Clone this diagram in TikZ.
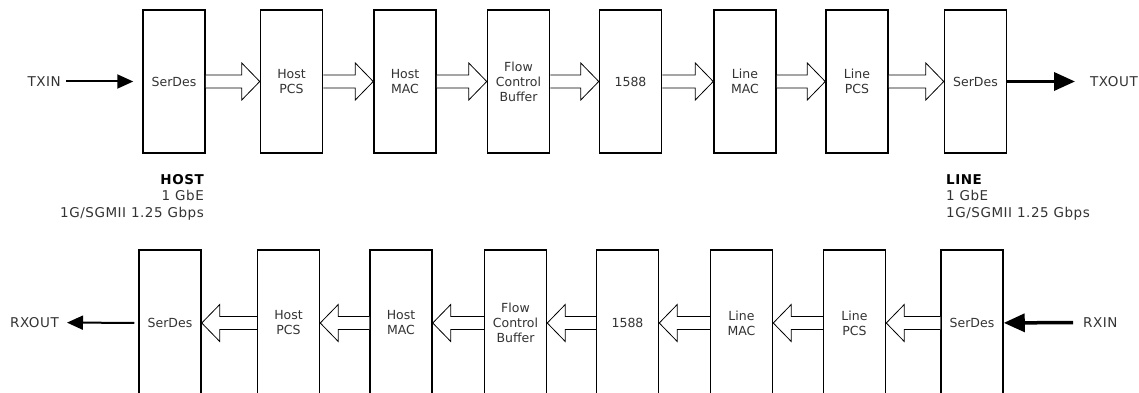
\documentclass[tikz,border=0pt]{standalone}
\usepackage{fontspec}
\setmainfont{DejaVu Sans}
\newfontfamily\lblfont[LetterSpace=4]{DejaVu Sans}
\usetikzlibrary{arrows.meta,calc}
\definecolor{txt}{HTML}{333333}
\tikzset{
  stage/.style={draw=black, line width=1.5pt, fill=white, minimum width=62pt,
    minimum height=143pt, align=center, inner sep=0pt, text=txt,
    font=\fontsize{12.5}{15}\selectfont},
  stagelow/.style={stage, minimum height=146pt},
  blk/.style={draw=black, line width=0.8pt, fill=white, line join=miter},
  lbl/.style={inner sep=0pt, text=txt, font=\lblfont\fontsize{13.5}{16.5}\selectfont},
  thinarr/.style={line width=2pt, -{Triangle[length=16pt,width=14pt]}},
  thickarr/.style={line width=3.5pt, -{Triangle[length=21pt,width=18pt]}},
}
\newcommand\blkright[2]{%
  \draw[blk] ($(#1.east)+(0,6.5)$) -- ($(#2.west)+(-18,6.5)$) -- ($(#2.west)+(-18,18.5)$)
    -- (#2.west) -- ($(#2.west)+(-18,-18.5)$) -- ($(#2.west)+(-18,-6.5)$) -- ($(#1.east)+(0,-6.5)$);}
\newcommand\blkleft[2]{%
  \draw[blk] ($(#1.west)+(0,6.5)$) -- ($(#2.east)+(18,6.5)$) -- ($(#2.east)+(18,18.5)$)
    -- (#2.east) -- ($(#2.east)+(18,-18.5)$) -- ($(#2.east)+(18,-6.5)$) -- ($(#1.west)+(0,-6.5)$);}
\begin{document}
\begin{tikzpicture}[x=1pt,y=1pt]
\useasboundingbox (0,0) rectangle (1139,-393);
\clip (0,0) rectangle (1139,-393);
% top row
\node[stage] (t1) at (174,-81.5) {SerDes};
\node[stage] (t2) at (291.5,-81.5) {Host\\PCS};
\node[stage] (t3) at (405,-81.5) {Host\\MAC};
\node[stage] (t4) at (518.5,-81.5) {Flow\\Control\\Buffer};
\node[stage] (t5) at (630.5,-81.5) {1588};
\node[stage] (t6) at (745,-81.5) {Line\\MAC};
\node[stage] (t7) at (857,-81.5) {Line\\PCS};
\node[stage] (t8) at (975.5,-81.5) {SerDes};
\blkright{t1}{t2}\blkright{t2}{t3}\blkright{t3}{t4}\blkright{t4}{t5}
\blkright{t5}{t6}\blkright{t6}{t7}\blkright{t7}{t8}
% bottom row
\node[stagelow] (b1) at (170,-323) {SerDes};
\node[stagelow] (b2) at (288.5,-323) {Host\\PCS};
\node[stagelow] (b3) at (401,-323) {Host\\MAC};
\node[stagelow] (b4) at (515.5,-323) {Flow\\Control\\Buffer};
\node[stagelow] (b5) at (627.5,-323) {1588};
\node[stagelow] (b6) at (741.5,-323) {Line\\MAC};
\node[stagelow] (b7) at (854.5,-323) {Line\\PCS};
\node[stagelow] (b8) at (972,-323) {SerDes};
\blkleft{b2}{b1}\blkleft{b3}{b2}\blkleft{b4}{b3}\blkleft{b5}{b4}
\blkleft{b6}{b5}\blkleft{b7}{b6}\blkleft{b8}{b7}
% external signals
\node[lbl, anchor=east] (txin) at (61,-81.5) {TXIN};
\draw[thinarr, shorten <=5pt, shorten >=9pt] (txin) -- (t1);
\node[lbl, anchor=west] (txout) at (1090,-81.5) {TXOUT};
\draw[thickarr, shorten >=15pt] (t8) -- (txout);
\node[lbl, anchor=east] (rxout) at (59,-322.5) {RXOUT};
\draw[thinarr, shorten <=4pt, shorten >=8pt] (b1) -- (rxout);
\node[lbl, anchor=west] (rxin) at (1083,-322.5) {RXIN};
\draw[thickarr, shorten <=10pt] (rxin) -- (b8);
% interface labels
\node[lbl, anchor=north east, align=right] (hostlbl) at (204,-174)
  {{\color{black}\bfseries HOST}\\1 GbE\\1G/SGMII 1.25 Gbps};
\node[lbl, anchor=north west, align=left] (linelbl) at (946,-174)
  {{\color{black}\bfseries LINE}\\1 GbE\\1G/SGMII 1.25 Gbps};
\end{tikzpicture}
\end{document}
